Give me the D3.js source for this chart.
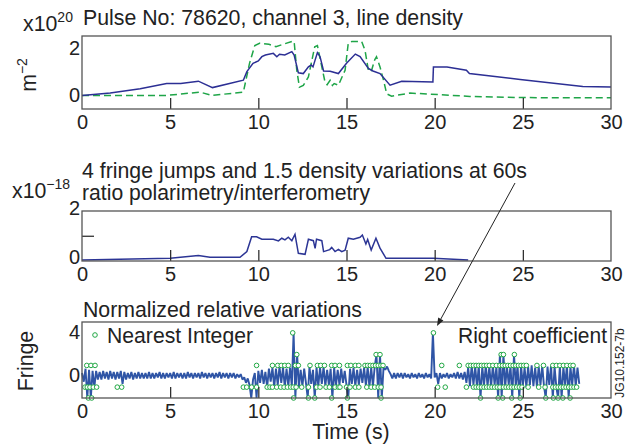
<!DOCTYPE html>
<html><head><meta charset="utf-8">
<script src="https://cdn.jsdelivr.net/npm/d3@7"></script>
<style>
body{margin:0;background:#fff;}
svg text{font-family:"Liberation Sans",Arial,Helvetica,sans-serif;fill:#222;}
</style></head><body>
<svg id="c" width="632" height="445"></svg>
<script>
// ---------- DATA ----------
const xTicks = [0, 5, 10, 15, 20, 25, 30];
const densityTicks = [0, 2];
const ratioTicks = [0, 2];
const fringeTicks = [0, 4];

// Panel 1: line density (solid, blue)
const densityTime = [0, 1.6, 3.3, 4.8, 5.6, 6.6, 7.4, 9.15, 9.35, 9.7, 10.0, 10.2, 10.4, 10.85, 11.05, 11.2, 11.5, 11.9, 12.03, 12.27, 12.55, 12.84, 13.0, 13.1, 13.35, 13.5, 13.7, 14.07, 14.54, 15.0, 15.5, 15.77, 16.24, 16.5, 16.9, 17.47, 18.13, 19.9, 19.93, 20.7, 21.8, 21.97, 24.85, 28.4, 30];
const densityVal  = [0, 0.1, 0.28, 0.5, 0.5, 0.6, 0.33, 0.64, 1.0, 1.35, 1.45, 1.63, 1.7, 1.77, 1.63, 1.73, 1.7, 1.84, 1.7, 0.95, 0.92, 1.2, 1.28, 1.2, 1.8, 1.63, 1.03, 1.02, 0.92, 1.35, 1.74, 1.63, 1.14, 1.03, 0.92, 0.43, 0.6, 0.57, 1.2, 1.2, 1.06, 0.92, 0.67, 0.38, 0.35];

// Panel 1: second density trace (dashed, green)
const greenTime = [0, 4.8, 6.7, 7.36, 9.15, 9.5, 9.8, 10.1, 10.6, 11.0, 11.4, 11.9, 12.03, 12.18, 12.33, 12.55, 12.84, 13.0, 13.2, 13.35, 13.6, 13.78, 13.9, 14.07, 14.2, 14.3, 14.54, 14.92, 15.1, 15.3, 15.86, 16.05, 16.24, 16.4, 16.6, 16.7, 16.9, 17.1, 17.28, 17.56, 18.6, 22, 24.85, 30];
const greenVal  = [0, 0, 0.14, 0, 0.14, 1.35, 2.1, 2.2, 2.15, 2.05, 2.15, 2.27, 2.27, 1.06, 0.35, 0.42, 0.78, 1.35, 2.05, 2.1, 1.2, 0.57, 0.45, 0.64, 0.42, 0.5, 0.43, 1.06, 2.2, 2.27, 2.27, 1.9, 1.06, 1.0, 1.5, 1.63, 1.2, 0.64, 0.07, -0.03, 0.1, -0.04, -0.09, -0.1];

// Panel 2: ratio polarimetry / interferometry
const ratioTime = [0, 5, 6.6, 7.26, 8.96, 9.35, 9.62, 9.9, 10.2, 10.85, 11.14, 11.33, 11.51, 11.7, 11.9, 12.08, 12.27, 12.65, 12.84, 13.12, 13.22, 13.3, 13.6, 13.7, 14.05, 14.16, 14.35, 14.54, 14.73, 14.92, 15.1, 15.39, 15.77, 15.9, 16.1, 16.2, 16.4, 16.67, 16.9, 17.24, 19.93, 21.9];
const ratioVal  = [0.02, 0.09, 0.2, 0.13, 0.13, 0.36, 0.96, 0.96, 0.86, 0.86, 0.79, 0.9, 0.83, 0.94, 0.8, 1.06, 0.29, 0.25, 0.86, 0.8, 0.49, 0.86, 0.8, 0.36, 0.44, 0.53, 0.36, 0.45, 0.36, 0.42, 0.9, 0.86, 0.94, 1.03, 0.67, 0.85, 0.42, 0.9, 0.5, 0.09, 0.09, 0.02];

// Panel 3: normalized relative variations, sampled every 0.1 s from t = 0
const fringeStart = 0, fringeStep = 0.1;
const fringeVal = [
 0.3,-0.5,0.7,-2,0.6,-2,0.5,-1,0.5,-0.3,
 0.4,-0.3,0.5,-0.2,0.4,-0.3,0.5,-0.2,0.4,-0.3,
 0.4,-0.2,0.5,-0.7,0.4,-0.3,0.3,-0.2,0.4,-0.3,
 0.3,-0.2,0.4,-0.2,0.3,-0.2,0.3,-0.2,0.4,-0.2,
 0.3,-0.2,0.3,-0.1,0.4,-0.2,0.3,-0.2,0.3,-0.1,
 0.3,-0.2,0.4,-0.2,0.3,-0.1,0.3,-0.2,0.3,-0.2,
 0.4,-0.1,0.3,-0.2,0.3,-0.1,0.3,-0.2,0.4,-0.1,
 0.3,-0.2,0.3,-0.1,0.3,-0.2,0.3,-0.1,0.4,-0.2,
 0.3,-0.1,0.3,-0.2,0.3,-0.1,0.3,-0.2,0.2,-0.1,
 0.2,-0.3,-0.1,-0.6,-0.2,-0.8,-2,-0.3,0.3,-2,
 0.5,-0.6,0.6,-0.7,0.4,-1,0.7,-0.5,0.8,-1,
 0.7,-0.8,0.9,-0.6,0.8,-1,0.7,-0.9,0.8,-0.9,
 4,-2,2,-1,0.6,-0.9,0.7,-0.6,-2,0.9,
 -0.7,0.6,-2,0.8,-0.9,0.8,-0.7,0.9,-0.9,0.6,
 -0.8,0.7,-2,0.8,-0.9,0.6,-0.8,0.7,-0.6,0.5,
 -0.8,-2,0.7,-0.7,0.8,-0.9,0.6,-0.8,0.7,-0.6,
 0.8,-0.9,0.9,-1,0.8,-0.9,0.9,2,-2,2,
 -2,0.8,0.6,0.9,0.5,0.2,-0.2,0.3,-0.2,0.3,
 -0.1,0.3,-0.2,0.3,-0.1,0.2,-0.2,0.3,-0.1,0.2,
 -0.2,0.3,-0.1,0.2,-0.2,0.3,-0.1,0.2,-0.2,4,
 -0.1,0.3,-0.7,0.3,-0.2,0.2,-0.1,0.3,-0.2,0.2,
 -0.1,0.3,-0.2,0.4,-0.2,0.3,-0.3,0.4,-0.6,0.8,
 -0.9,1,-0.8,0.9,-1,1,-2,0.9,-0.8,1,
 -0.9,0.9,-1,1,-0.8,0.9,-2,2,-2,2,
 -1,0.9,-0.8,1,-2,2,-0.9,1,-2,1,
 -0.9,0.8,-1,0.9,-0.8,1,-0.9,0.8,-1,0.9,
 -0.8,1,-0.9,-2,0.9,-0.8,1,-2,0.9,-1,
 -2,1,-2,0.9,-0.8,1,-2,0.9,-0.8,1,
 -0.9,0.8,-0.7
];

// Nearest-integer markers (time of each marker, grouped by integer level)
const nearest4  = [11.95, 19.93];
const nearest2  = [12.18, 16.68, 16.9, 23.77, 23.9, 24.52];
const nearest1  = [0.27, 0.51, 0.74, 9.9, 10.8, 11.1, 11.3, 11.5, 11.7, 12.1, 12.27, 12.93, 13.35, 13.54, 13.75, 14.16, 14.35, 14.6, 15.05, 15.25, 15.5, 15.7, 16.05, 16.2, 16.35, 16.5, 16.65, 16.8, 16.95, 17.07, 20.4, 21.4, 21.9, 22.05, 22.2, 22.35, 22.5, 22.65, 22.8, 22.95, 23.1, 23.3, 23.5, 23.7, 23.85, 24.0, 24.15, 24.3, 24.45, 24.6, 24.75, 24.9, 25.05, 25.2, 25.8, 26.17, 26.7, 26.9, 27.1, 27.3, 27.5, 27.7, 27.85];
const nearestM1 = [0.17, 0.3, 0.45, 0.64, 0.83, 2.0, 2.25, 9.15, 9.34, 9.62, 9.9, 10.5, 10.66, 10.8, 11.04, 11.27, 11.46, 11.65, 11.84, 11.98, 12.14, 12.46, 12.84, 13.3, 13.5, 13.84, 14.03, 14.35, 14.54, 14.63, 15.0, 15.2, 15.5, 15.7, 16.15, 16.4, 16.6, 16.8, 16.96, 20.17, 20.6, 21.8, 22.2, 22.35, 22.5, 22.65, 22.8, 22.95, 23.1, 23.25, 23.4, 23.55, 23.7, 23.9, 24.05, 24.2, 24.35, 24.5, 24.65, 24.8, 24.95, 25.3, 25.9, 26.26, 26.7, 26.85, 27.0, 27.15, 27.3, 27.45, 27.6, 27.75, 27.9, 28.05];
const nearestM2 = [0.36, 0.55, 12.0, 12.84, 13.2, 14.16, 15.05, 16.96, 22.6, 23.6, 23.86, 24.37, 24.85, 26.3, 26.73, 27.0, 27.27, 27.68];

// ---------- DRAWING ----------
const FONT = '"Liberation Sans", Arial, Helvetica, sans-serif';
const TS = 21.3; // title / legend font size
const svg = d3.select("#c");
const L = 82, R = 611;
const x = d3.scaleLinear().domain([0, 30]).range([L, R]);

const P1 = {top: 36, bottom: 109};
const P2 = {top: 211, bottom: 261};
const P3 = {top: 322, bottom: 398};
const y1 = d3.scaleLinear().domain([-0.57, 2.5]).range([P1.bottom, P1.top]);
const y2 = d3.scaleLinear().domain([0, 2]).range([260.5, 211]);
const y3 = d3.scaleLinear().domain([-2, 5]).range([P3.bottom, P3.top]);

function styleText(sel, size){ sel.attr("font-family", FONT).attr("font-size", size).attr("fill", "#222"); }
function label(xp, yp, str, width, anchor){
  const t = svg.append("text").attr("x", xp).attr("y", yp).text(str);
  styleText(t, TS);
  if (anchor) t.attr("text-anchor", anchor);
  if (width) t.attr("textLength", width).attr("lengthAdjust", "spacingAndGlyphs");
  return t;
}

function xAxis(yb){
  const g = svg.append("g").attr("transform", `translate(0,${yb})`)
    .call(d3.axisBottom(x).tickValues(xTicks).tickFormat(d3.format("d")).tickSizeInner(-11).tickSizeOuter(0).tickPadding(6));
  g.select(".domain").remove();
  g.selectAll(".tick line").attr("stroke", "#222").attr("stroke-width", 1.2)
    .filter(d => d === 0 || d === 30).remove();
  styleText(g.selectAll(".tick text"), 20);
}
function yAxis(scale, ticks, shift){
  const g = svg.append("g").attr("transform", `translate(${L},0)`)
    .call(d3.axisLeft(scale).tickValues(ticks).tickFormat(d3.format("d")).tickSize(0).tickPadding(2));
  g.select(".domain").remove();
  styleText(g.selectAll(".tick text"), 20);
  if (shift) g.selectAll(".tick text").attr("y", shift);
}
function box(p){
  svg.append("rect").attr("x", L).attr("y", p.top).attr("width", R - L).attr("height", p.bottom - p.top)
    .attr("fill", "none").attr("stroke", "#555").attr("stroke-width", 1.3);
}

// ---- Panel 1 ----
const line1 = d3.line().x(d => x(d[0])).y(d => y1(d[1]));
svg.append("path").datum(greenTime.map((t, i) => [t, greenVal[i]]))
  .attr("d", line1).attr("fill", "none").attr("stroke", "#1fa548").attr("stroke-width", 1.5)
  .attr("stroke-dasharray", "7,4");
svg.append("path").datum(densityTime.map((t, i) => [t, densityVal[i]]))
  .attr("d", line1).attr("fill", "none").attr("stroke", "#2c2f94").attr("stroke-width", 1.5);
xAxis(P1.bottom);
yAxis(y1, densityTicks, 0);
box(P1);

// ---- Panel 2 ----
const line2 = d3.line().x(d => x(d[0])).y(d => y2(d[1]));
svg.append("path").datum(ratioTime.map((t, i) => [t, ratioVal[i]]))
  .attr("d", line2).attr("fill", "none").attr("stroke", "#2c3595").attr("stroke-width", 1.5);
xAxis(P2.bottom);
yAxis(y2, ratioTicks, -3);
{
  const g = svg.append("g").attr("transform", `translate(${L},0)`)
    .call(d3.axisLeft(y2).tickValues([1]).tickSizeInner(-12).tickSizeOuter(0).tickFormat(""));
  g.select(".domain").remove();
  g.selectAll(".tick line").attr("stroke", "#222").attr("stroke-width", 1.2);
}
box(P2);

// ---- Panel 3 ----
const line3 = d3.line().x(d => x(d[0])).y(d => y3(d[1]));
svg.append("path").datum(fringeVal.map((v, i) => [fringeStart + i * fringeStep, v]))
  .attr("d", line3).attr("fill", "none").attr("stroke", "#2f55a6").attr("stroke-width", 1.9)
  .attr("stroke-linejoin", "bevel");
const markers = [].concat(
  nearest4.map(t => [t, 4]), nearest2.map(t => [t, 2]), nearest1.map(t => [t, 1]),
  nearestM1.map(t => [t, -1]), nearestM2.map(t => [t, -2]));
svg.append("g").selectAll("circle").data(markers).join("circle")
  .attr("cx", d => x(d[0])).attr("cy", d => y3(d[1])).attr("r", 2.3)
  .attr("fill", "#fff").attr("stroke", "#22a845").attr("stroke-width", 1);
xAxis(P3.bottom);
yAxis(y3, fringeTicks, -1);
box(P3);

// legend
svg.append("circle").attr("cx", 95).attr("cy", 335).attr("r", 2.3)
  .attr("fill", "#fff").attr("stroke", "#22a845").attr("stroke-width", 1);
label(107, 343, "Nearest Integer", 146);
label(607, 343, "Right coefficient", 149, "end");

// ---- titles & labels ----
label(83, 25, "Pulse No: 78620, channel 3, line density", 380);
{
  const t = svg.append("text").attr("x", 23).attr("y", 31);
  styleText(t, TS);
  t.append("tspan").text("x10");
  t.append("tspan").attr("font-size", 14).attr("dy", -9).text("20");
}
{
  const t = svg.append("text").attr("transform", "translate(36,75) rotate(-90)").attr("text-anchor", "middle");
  styleText(t, TS);
  t.append("tspan").text("m");
  t.append("tspan").attr("font-size", 14).attr("dy", -9).text("\u22122");
}
label(82, 178, "4 fringe jumps and 1.5 density variations at 60s", 445);
label(82, 200, "ratio polarimetry/interferometry", 288);
{
  const t = svg.append("text").attr("x", 12).attr("y", 198);
  styleText(t, TS);
  t.append("tspan").text("x10");
  t.append("tspan").attr("font-size", 14).attr("dy", -9).text("\u221218");
}
label(83, 317, "Normalized relative variations", 279);
styleText(svg.append("text").attr("transform", "translate(33,361) rotate(-90)").attr("text-anchor", "middle").text("Fringe"), TS);
styleText(svg.append("text").attr("x", 351).attr("y", 439).attr("text-anchor", "middle").text("Time (s)"), TS);
styleText(svg.append("text").attr("transform", "translate(624,363) rotate(-90)").attr("text-anchor", "middle").text("JG10.152-7b"), 12);

// ---- annotation arrow ----
{
  const x0 = 515, yy0 = 183, x1 = 437, yy1 = 326;
  const ang = Math.atan2(yy1 - yy0, x1 - x0);
  const len = 8, w = 3;
  const bx = x1 - len * Math.cos(ang), by = yy1 - len * Math.sin(ang);
  svg.append("line").attr("x1", x0).attr("y1", yy0).attr("x2", bx).attr("y2", by)
    .attr("stroke", "#222").attr("stroke-width", 1);
  const p = [[x1, yy1], [bx + w * Math.sin(ang), by - w * Math.cos(ang)], [bx - w * Math.sin(ang), by + w * Math.cos(ang)]];
  svg.append("path").attr("d", "M" + p.map(q => q.join(",")).join("L") + "Z").attr("fill", "#222");
}
</script>
</body></html>
